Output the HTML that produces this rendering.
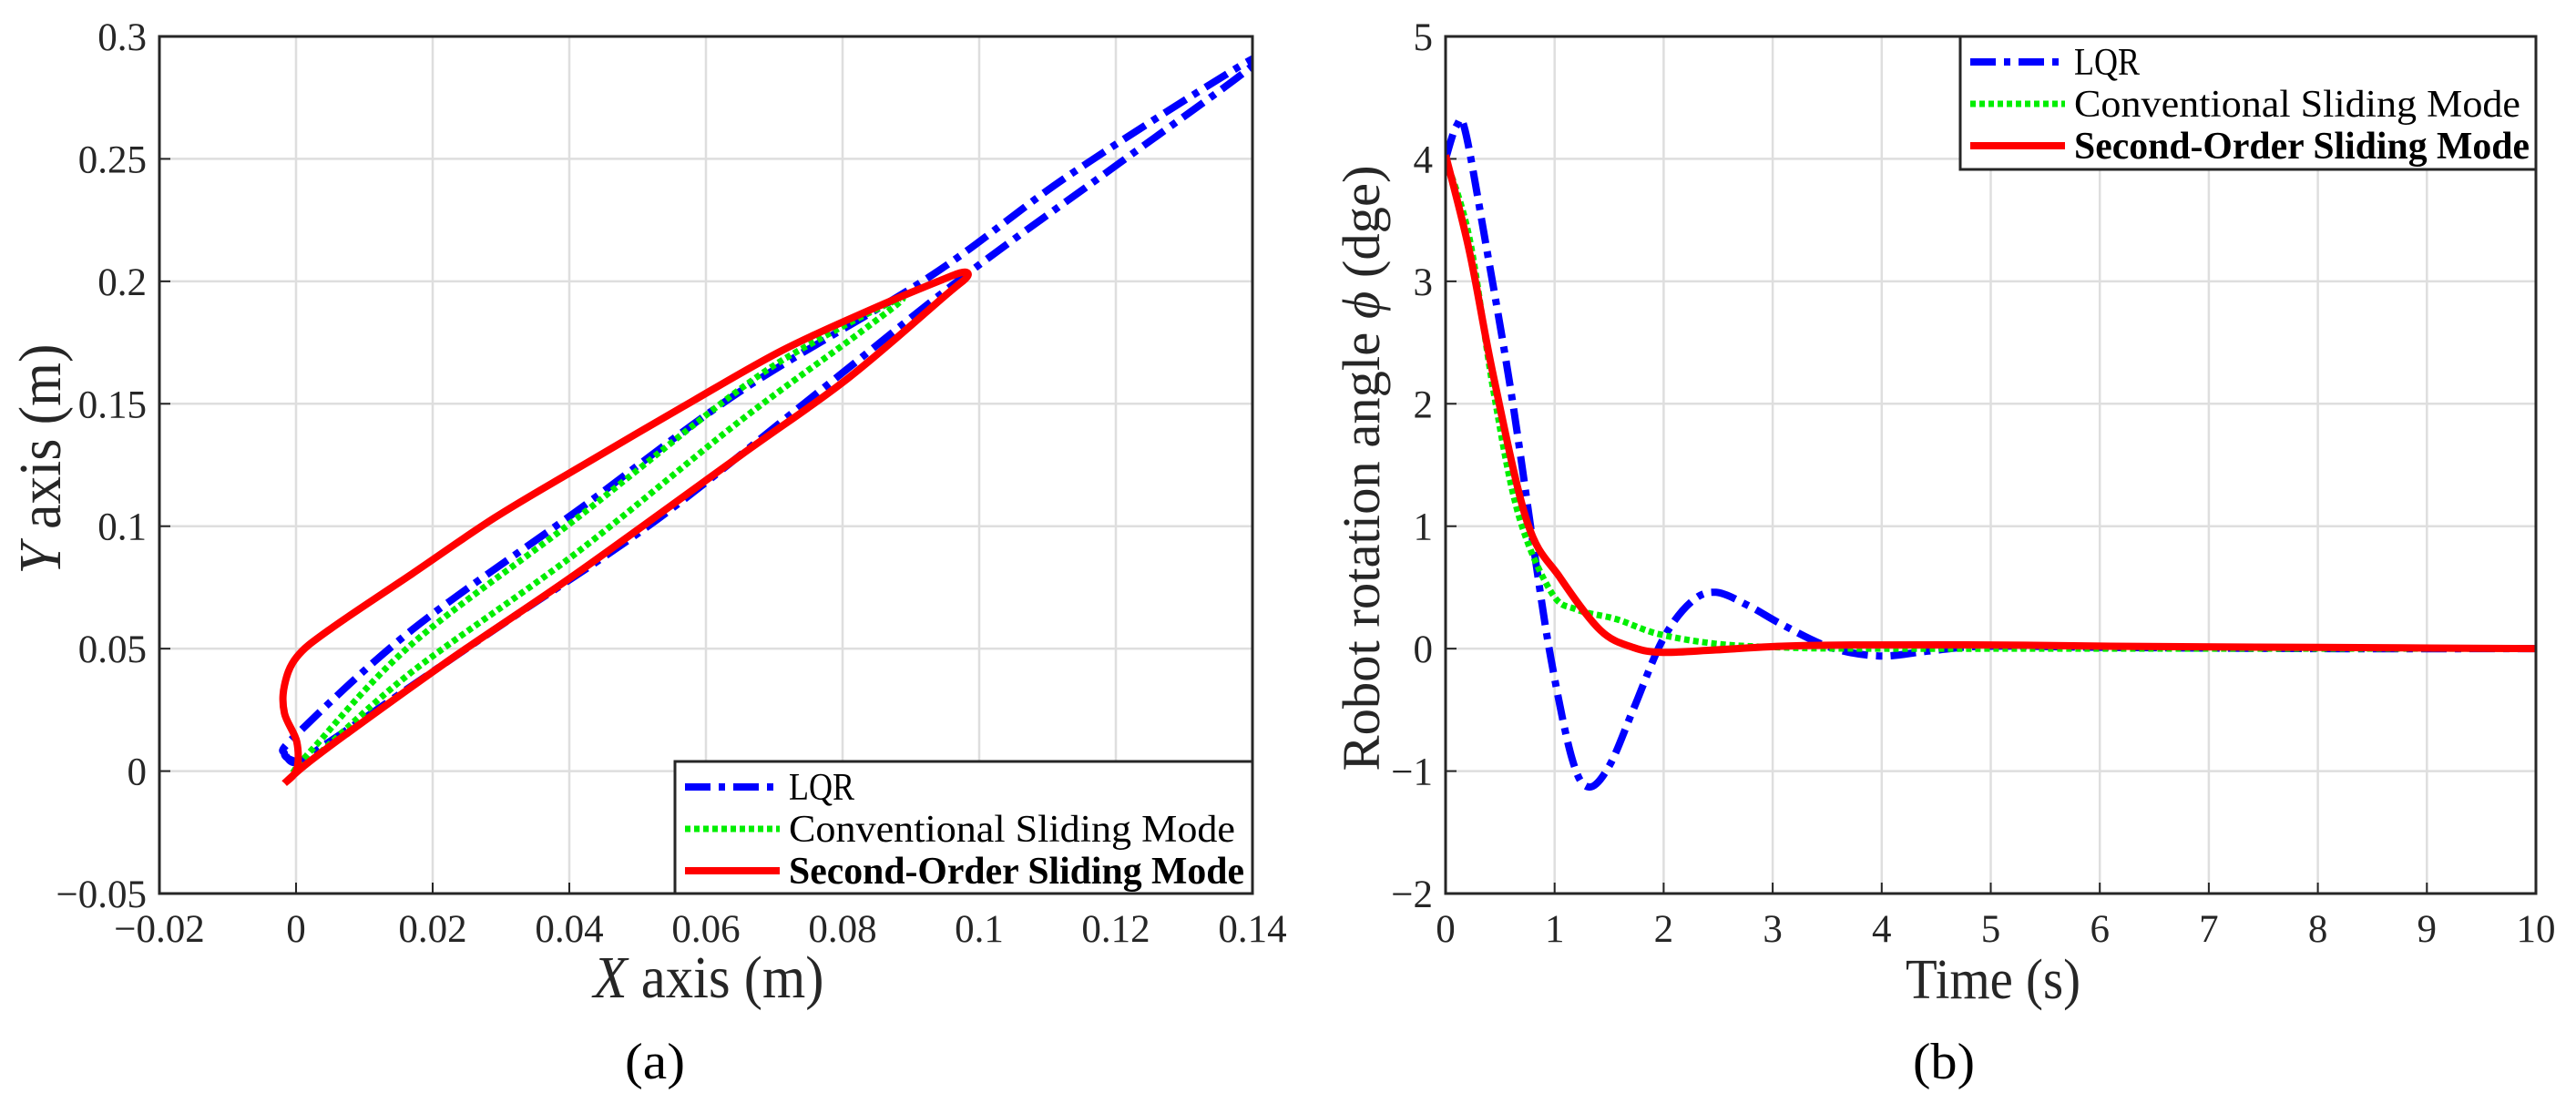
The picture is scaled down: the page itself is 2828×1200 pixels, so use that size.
<!DOCTYPE html>
<html><head><meta charset="utf-8"><style>
html,body{margin:0;padding:0;background:#fff;}
svg{display:block;font-family:"Liberation Serif",serif;}
</style></head><body>
<svg id="fig" width="2828" height="1200" viewBox="0 0 2828 1200" xmlns="http://www.w3.org/2000/svg">
<rect width="2828" height="1200" fill="#fff"/>
<g id="pa"></g>
<g id="pb"></g>
<g font-family="Liberation Serif, serif" fill="#262626">
<text x="778" y="1095" text-anchor="middle" font-size="66" textLength="253" lengthAdjust="spacingAndGlyphs"><tspan font-style="italic">X</tspan> axis (m)</text>
<text transform="translate(66,504) rotate(-90)" text-anchor="middle" font-size="66" textLength="253" lengthAdjust="spacingAndGlyphs"><tspan font-style="italic">Y</tspan> axis (m)</text>
<text x="719" y="1184" text-anchor="middle" font-size="56" fill="#000" textLength="66" lengthAdjust="spacingAndGlyphs">(a)</text>
<text x="2188" y="1096" text-anchor="middle" font-size="62" textLength="192" lengthAdjust="spacingAndGlyphs">Time (s)</text>
<text transform="translate(1514,514) rotate(-90)" text-anchor="middle" font-size="58" textLength="665" lengthAdjust="spacingAndGlyphs">Robot rotation angle <tspan font-style="italic">ϕ</tspan> (dge)</text>
<text x="2134" y="1184" text-anchor="middle" font-size="56" fill="#000" textLength="68" lengthAdjust="spacingAndGlyphs">(b)</text>
</g>
</svg>
<script>
// ---- Panel (a) data ----
const aXTicks = [-0.02,0,0.02,0.04,0.06,0.08,0.1,0.12,0.14];
const aXTickLabels = ["\u22120.02","0","0.02","0.04","0.06","0.08","0.1","0.12","0.14"];
const aYTicks = [-0.05,0,0.05,0.1,0.15,0.2,0.25,0.3];
const aYTickLabels = ["\u22120.05","0","0.05","0.1","0.15","0.2","0.25","0.3"];
const lqrX = [0.0001,-0.0017,0.0001,0.017,0.041,0.065,0.0928,0.113,0.1386,0.139,0.1193,0.0976,0.077,0.053,0.029,0.0049,0.0001,-0.0017];
const lqrY = [0.0036,0.007,0.015,0.0577,0.106,0.155,0.202,0.243,0.2886,0.2858,0.2458,0.2017,0.156,0.103,0.0577,0.012,0.0036,0.007];
const csmX = [-0.0005,0.0025,0.017,0.041,0.065,0.077,0.0886,0.083,0.065,0.041,0.017,0.0025,-0.0005];
const csmY = [-0.0007,0.0093,0.052,0.103,0.156,0.177,0.193,0.18,0.143,0.089,0.0406,0.005,-0.0007];
const ssmX = [-0.0017,0.0001,0.0001,-0.0017,-0.0017,0.0001,0.0049,0.017,0.029,0.041,0.0567,0.0711,0.0844,0.094,0.0976,0.0982,0.0952,0.0808,0.0651,0.041,0.023,0.0073,0.0013,-0.0017];
const ssmY = [-0.005,0.0007,0.012,0.0236,0.035,0.0466,0.0578,0.0806,0.1033,0.1233,0.1489,0.1717,0.1888,0.2,0.2037,0.2017,0.1946,0.1604,0.129,0.0806,0.0464,0.015,0.0024,-0.005];
// ---- Panel (b) data ----
const bXTicks = [0,1,2,3,4,5,6,7,8,9,10];
const bXTickLabels = ["0","1","2","3","4","5","6","7","8","9","10"];
const bYTicks = [-2,-1,0,1,2,3,4,5];
const bYTickLabels = ["\u22122","\u22121","0","1","2","3","4","5"];
const lqrT = [0,0.1,0.18,0.37,0.6,0.82,0.97,1.16,1.31,1.5,1.72,1.99,2.25,2.48,2.78,3.08,3.53,3.98,4.43,4.96,6.1,8,10];
const lqrV = [4.0,4.27,4.23,3.3,2.1,0.75,-0.1,-0.9,-1.13,-0.96,-0.5,0.07,0.38,0.46,0.35,0.2,0.01,-0.06,-0.02,0.02,0.01,0,0];
const csmT = [0,0.22,0.44,0.67,0.97,1.2,1.57,1.95,2.48,3.08,3.83,6,10];
const csmV = [4.0,3.35,2.1,1.09,0.46,0.32,0.24,0.12,0.04,0.01,0,0,0];
const ssmT = [0,0.22,0.44,0.75,1.05,1.42,1.72,1.99,2.48,3.08,3.83,4.96,6.1,8,10];
const ssmV = [4.03,3.24,2.22,1.03,0.58,0.15,0.01,-0.03,-0.01,0.02,0.03,0.03,0.02,0.01,0];

const NS="http://www.w3.org/2000/svg";
function mk(parent,tag,attrs,text){const e=document.createElementNS(NS,tag);for(const k in attrs)e.setAttribute(k,attrs[k]);if(text!==undefined)e.textContent=text;parent.appendChild(e);return e;}
function smooth(pts){let d="M"+pts[0][0].toFixed(1)+","+pts[0][1].toFixed(1);
 for(let i=0;i<pts.length-1;i++){const p0=pts[Math.max(0,i-1)],p1=pts[i],p2=pts[i+1],p3=pts[Math.min(pts.length-1,i+2)];
  const c1=[p1[0]+(p2[0]-p0[0])/6,p1[1]+(p2[1]-p0[1])/6],c2=[p2[0]-(p3[0]-p1[0])/6,p2[1]-(p3[1]-p1[1])/6];
  d+="C"+c1[0].toFixed(1)+","+c1[1].toFixed(1)+" "+c2[0].toFixed(1)+","+c2[1].toFixed(1)+" "+p2[0].toFixed(1)+","+p2[1].toFixed(1);}
 return d;}
const styles={
 lqr:{stroke:"#0000ff","stroke-width":8,"stroke-dasharray":"28,9,7,9",fill:"none"},
 csm:{stroke:"#00ee00","stroke-width":7,"stroke-dasharray":"6,4",fill:"none"},
 ssm:{stroke:"#ff0000","stroke-width":8,fill:"none"}};

function panel(g,o){
 const L=o.L,R=o.R,T=40,B=981;
 const sx=v=>L+(v-o.x0)/(o.x1-o.x0)*(R-L);
 const sy=v=>B-(v-o.y0)/(o.y1-o.y0)*(B-T);
 o.xt.forEach((v,i)=>{
  const gl=mk(g,"line",{x1:sx(v),x2:sx(v),y1:T,y2:B,stroke:"#dedede","stroke-width":2.5});
  
  
  const tk=mk(g,"line",{x1:sx(v),x2:sx(v),y1:B,y2:B-12,stroke:"#262626","stroke-width":2});
  
  
  const lb=mk(g,"text",{x:sx(v),y:1034,"text-anchor":"middle","font-size":43,fill:"#262626"},o.xl[i]);
  
  
 });
 o.yt.forEach((v,i)=>{
  const gl=mk(g,"line",{x1:L,x2:R,y1:sy(v),y2:sy(v),stroke:"#dedede","stroke-width":2.5});
  
  
  const tk=mk(g,"line",{x1:L,x2:L+12,y1:sy(v),y2:sy(v),stroke:"#262626","stroke-width":2});
  
  
  const lb=mk(g,"text",{x:L-14,y:sy(v)+15,"text-anchor":"end","font-size":43,fill:"#262626"},o.yl[i]);
  
  
 });
 const cp=mk(g,"clipPath",{id:o.id+"clip"});mk(cp,"rect",{x:L,y:T,width:R-L,height:B-T});
 const sg=mk(g,"g",{"clip-path":"url(#"+o.id+"clip)"});
 o.series.forEach(s=>{
  const pts=s.xs.map((v,i)=>[sx(v),sy(s.ys[i])]);
  const p=mk(sg,"path",Object.assign({d:smooth(pts),"stroke-linejoin":"round"},styles[s.k]));
  
  
 });
 const fr=mk(g,"rect",{x:L,y:T,width:R-L,height:B-T,fill:"none",stroke:"#262626","stroke-width":3});
 
 
 const lg=mk(g,"g",{});
 
 
 mk(lg,"rect",{x:o.lx,y:o.ly,width:o.lw,height:o.lh,fill:"#fff",stroke:"#262626","stroke-width":3});
 const names=["LQR","Conventional Sliding Mode","Second-Order Sliding Mode"],keys=["lqr","csm","ssm"];
 names.forEach((n,i)=>{
  const yy=o.ly+28+i*46;
  const e=mk(lg,"g",{});
  
  
  mk(e,"line",Object.assign({x1:o.lx+11,x2:o.lx+115,y1:yy,y2:yy},styles[keys[i]]));
  mk(e,"text",{x:o.lx+125,y:yy+14,"font-size":42,fill:"#000","font-weight":i==2?"bold":"normal",textLength:i==0?72:(i==1?490:500),lengthAdjust:"spacingAndGlyphs"},n);
 });
}
panel(document.getElementById("pa"),{id:"a",L:175,R:1375,x0:-0.02,x1:0.14,y0:-0.05,y1:0.3,xt:aXTicks,xl:aXTickLabels,yt:aYTicks,yl:aYTickLabels,
 series:[{k:"lqr",xs:lqrX,ys:lqrY,name:"lqr-trajectory"},{k:"csm",xs:csmX,ys:csmY,name:"conventional-sm-trajectory"},{k:"ssm",xs:ssmX,ys:ssmY,name:"second-order-sm-trajectory"}],
 lx:741,ly:836,lw:634,lh:145});
panel(document.getElementById("pb"),{id:"b",L:1587,R:2784,x0:0,x1:10,y0:-2,y1:5,xt:bXTicks,xl:bXTickLabels,yt:bYTicks,yl:bYTickLabels,
 series:[{k:"lqr",xs:lqrT,ys:lqrV,name:"lqr-angle-line"},{k:"csm",xs:csmT,ys:csmV,name:"conventional-sm-angle-line"},{k:"ssm",xs:ssmT,ys:ssmV,name:"second-order-sm-angle-line"}],
 lx:2152,ly:40,lw:632,lh:146});
</script>
</body></html>
